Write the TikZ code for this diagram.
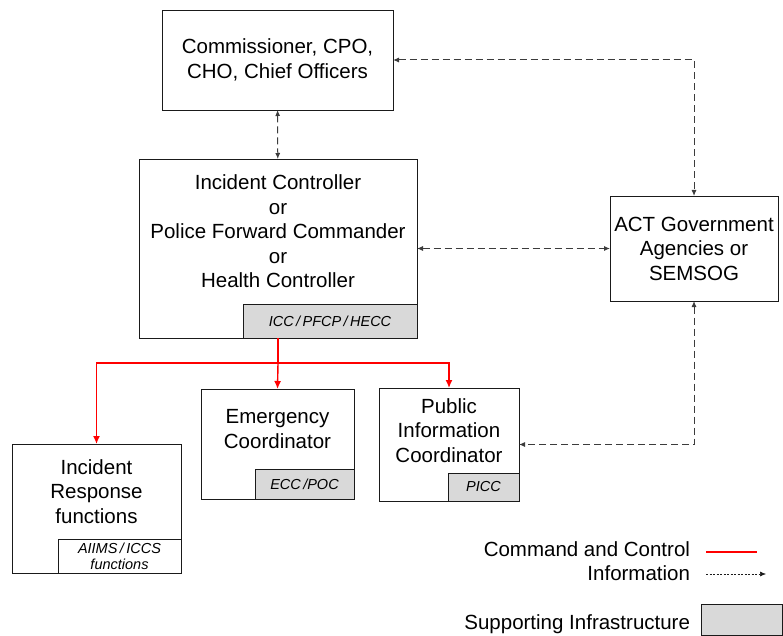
\documentclass[tikz,border=0pt]{standalone}
\usepackage{fontspec}
\setmainfont{Liberation Sans}
\usetikzlibrary{arrows.meta,positioning,fit}
\definecolor{infra}{HTML}{D9D9D9}
\definecolor{cmdred}{HTML}{FF0000}
\definecolor{ink}{HTML}{1A1A1A}

\begin{document}
\begin{tikzpicture}[x=1pt,y=-1pt, every node/.style={font=\fontsize{20.5}{24.5}\selectfont,align=center,outer sep=0pt},
  bx/.style={draw=ink,line width=0.9pt},
  tg/.style={draw=ink,line width=0.9pt,fill=infra,inner sep=0pt,font=\fontsize{14.5}{16}\selectfont\itshape},
  boxline/.style={draw=ink,line width=0.9pt,inner sep=0pt},
  inf/.style={draw=ink!85,line width=1pt,dash pattern=on 7pt off 4pt,{Latex[length=6pt,width=5pt]}-{Latex[length=6pt,width=5pt]}},
  cc/.style={draw=cmdred,line width=1.4pt,-{Latex[length=8pt,width=7pt]}}]
  \useasboundingbox (0,0) rectangle (783,636);
  % top level
  \node[bx,minimum width=231pt,minimum height=100pt] (comm) at (277.5,60) {Commissioner, CPO,\\CHO, Chief Officers};
  \node[minimum width=278pt,minimum height=145pt] (ic) at (278,231.5) {Incident Controller\\or\\Police Forward Commander\\or\\Health Controller};
  \node[tg,minimum width=174pt,minimum height=34pt,below left=0pt of ic.south east] (icc) {ICC\,/\,PFCP\,/\,HECC};
  \node[boxline,fit=(ic)(icc)] (icbox) {};
  \node[bx,minimum width=168pt,minimum height=105pt] (act) at (694,248.5) {ACT Government\\Agencies or\\SEMSOG};
  % coordinators
  \node[minimum width=153pt,minimum height=80pt] (ec) at (277.5,429) {Emergency\\Coordinator};
  \node[tg,minimum width=99pt,minimum height=30pt,below left=0pt of ec.south east] (ecc) {ECC\,/POC};
  \node[boxline,fit=(ec)(ecc)] (ecbox) {};
  \node[minimum width=140pt,minimum height=85pt] (pic) at (449,430.5) {Public\\Information\\Coordinator};
  \node[tg,minimum width=71pt,minimum height=28pt,below left=0pt of pic.south east] (picc) {PICC};
  \node[boxline,fit=(pic)(picc)] (picbox) {};
  \node[minimum width=169pt,minimum height=95pt] (irf) at (96.5,491.5) {Incident\\Response\\functions};
  \node[tg,fill=white,minimum width=123pt,minimum height=34pt,below left=0pt of irf.south east] (aiims) {AIIMS\,/\,ICCS\\functions};
  \node[boxline,fit=(irf)(aiims)] (irfbox) {};
  % information
  \draw[inf] (comm) -- (icbox);
  \draw[inf] (comm.east) -| (act.north);
  \draw[inf] (icbox.east) -- (act.west);
  \draw[inf] (act.south) |- (picbox.east);
  % command and control
  \coordinate (split) at (278,363);
  \draw[draw=cmdred,line width=1.4pt] (icbox.south) -- (split);
  \draw[cc] (split) -| (irfbox.north);
  \draw[cc] (split) -- (ecbox.north);
  \draw[cc] (split) -| (picbox.north);
  % legend
  \node[anchor=east,inner sep=0pt] (lcc) at (690,549) {Command and Control};
  \node[anchor=east,inner sep=0pt] (linf) at (690,573) {Information};
  \node[anchor=east,inner sep=0pt] (lsup) at (690,624) {Supporting Infrastructure};
  \coordinate (cca) at (706,552);
  \coordinate (ccb) at (757,552);
  \draw[draw=cmdred,line width=1.4pt] (cca) -- (ccb);
  \coordinate (infa) at (706,574);
  \coordinate (infb) at (766,574);
  \draw[draw=ink,line width=0.6pt,dash pattern=on 2pt off 1.5pt,-{Latex[length=6pt,width=5pt]}] (infa) -- (infb);
  \node[tg,anchor=north west,minimum width=81.5pt,minimum height=31.5pt] (lbox) at (701,604) {};
\end{tikzpicture}
\end{document}
